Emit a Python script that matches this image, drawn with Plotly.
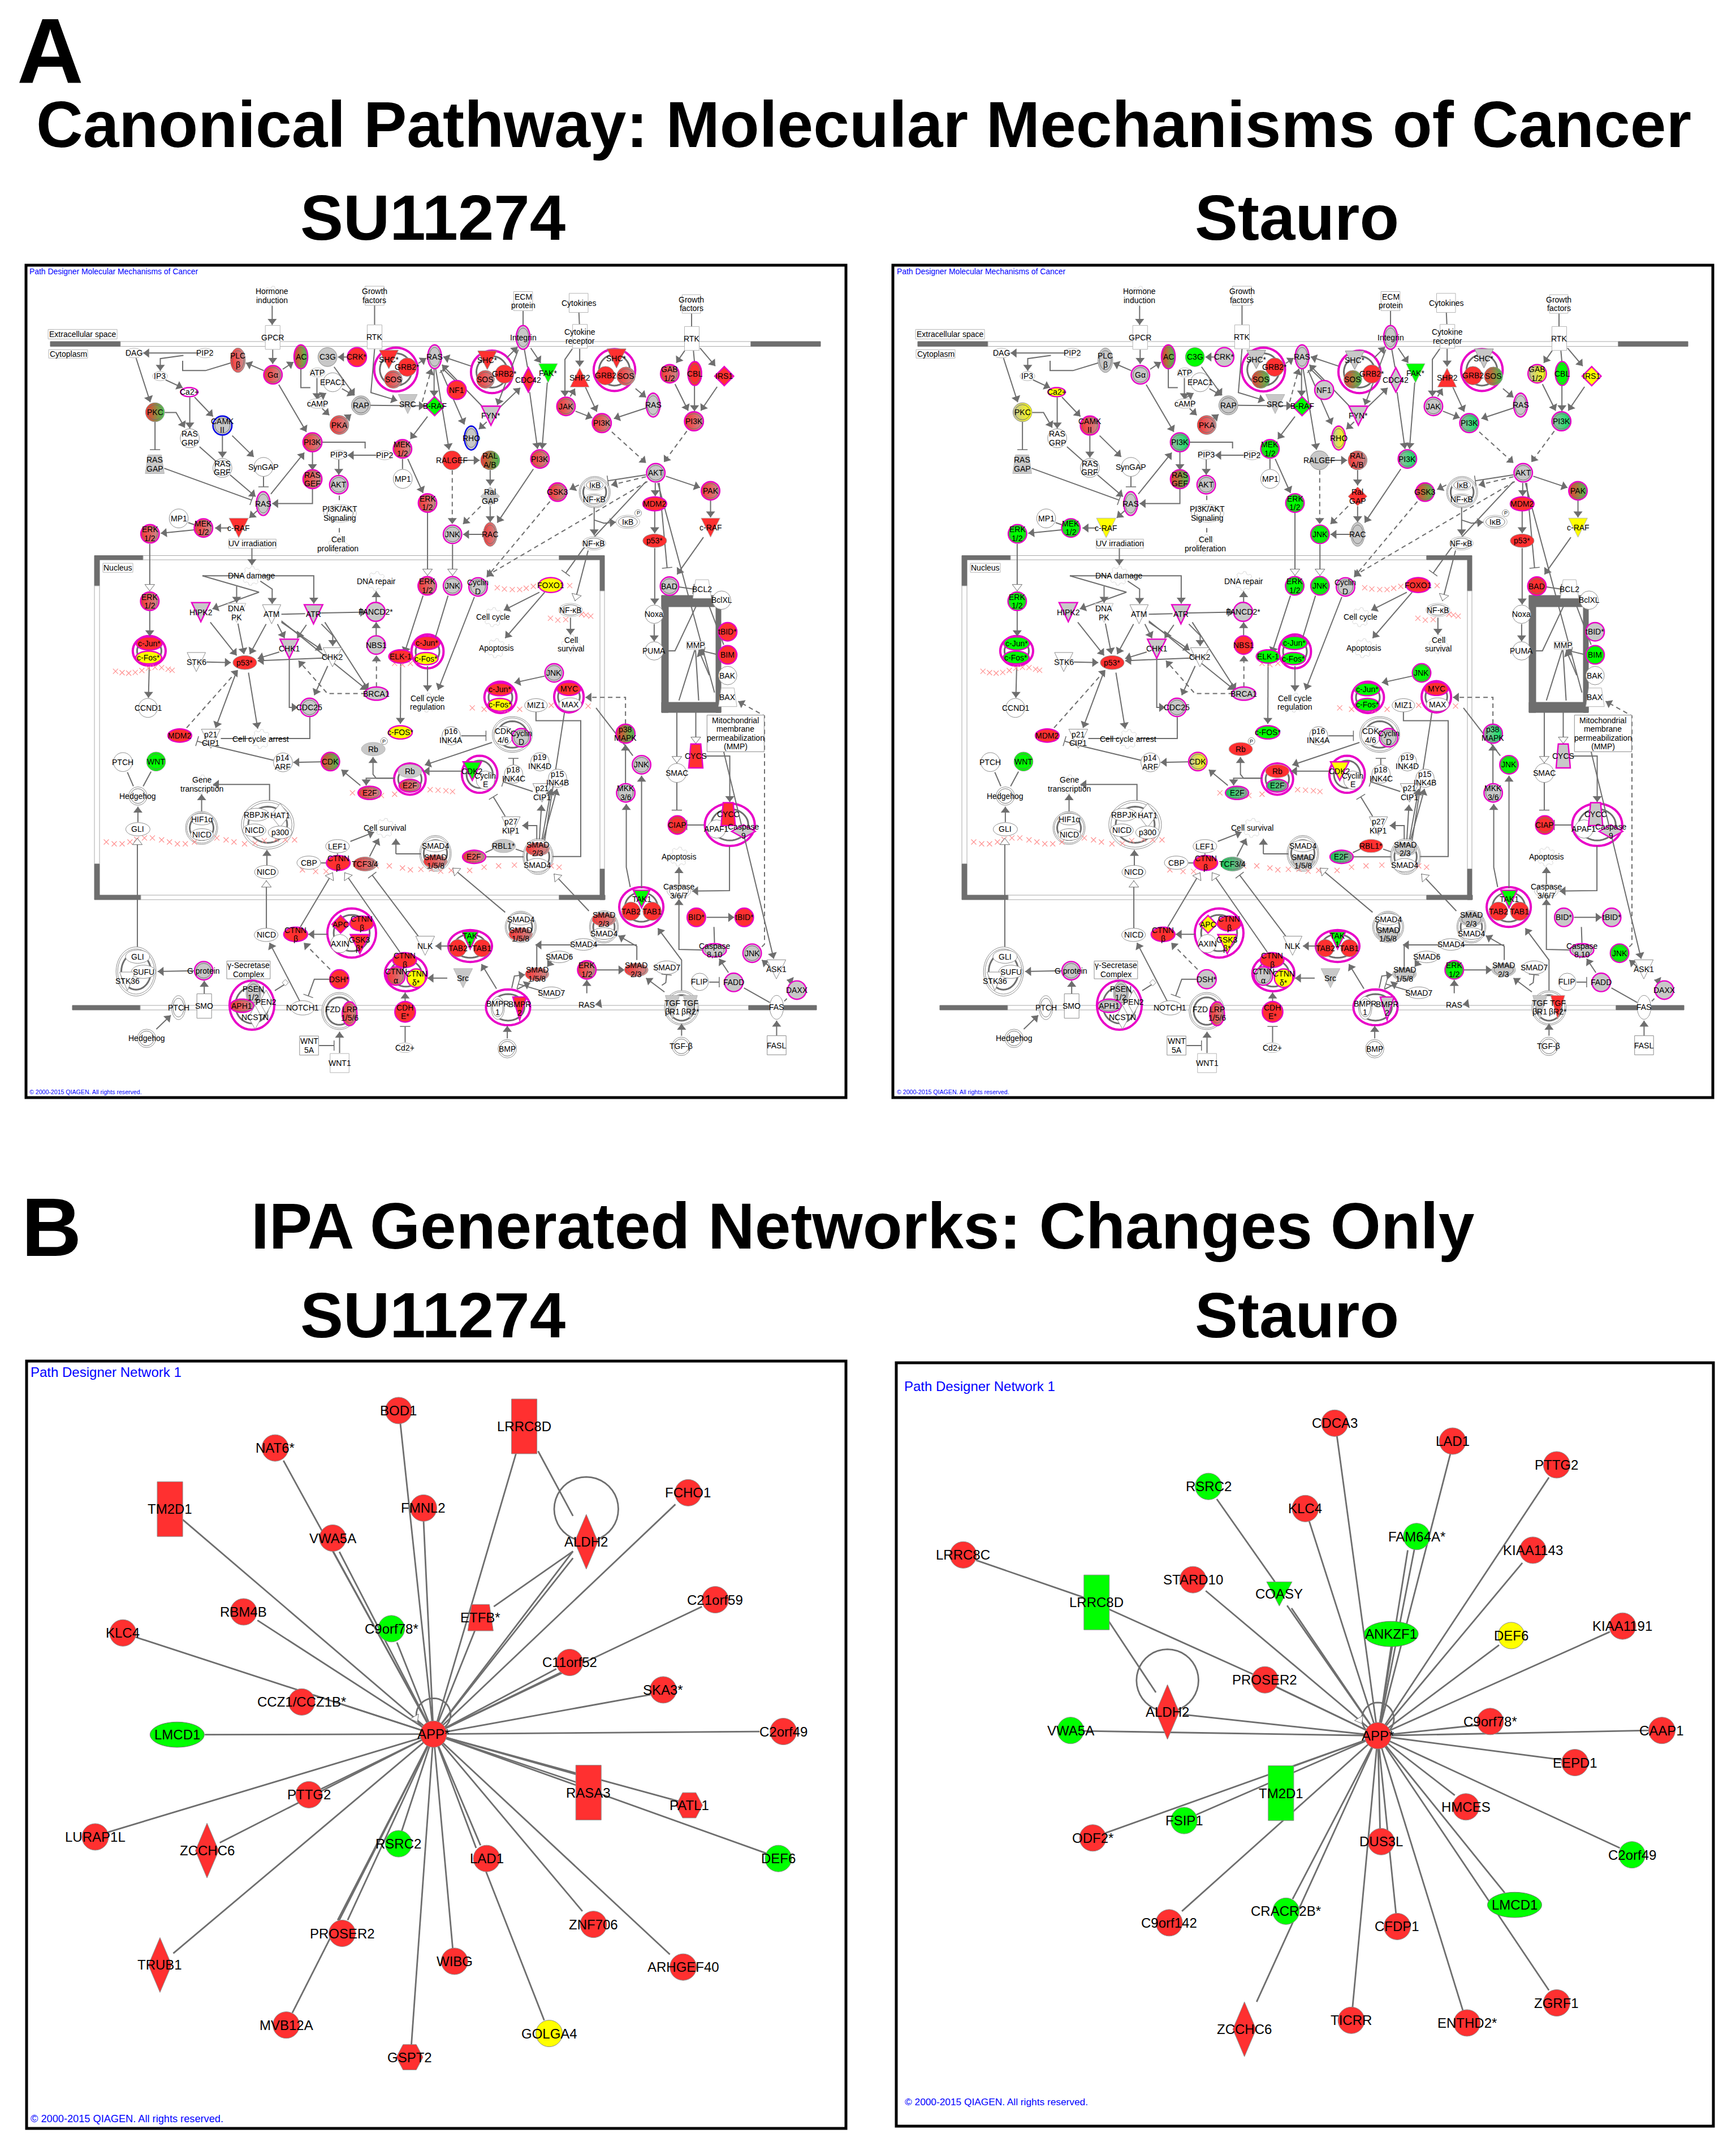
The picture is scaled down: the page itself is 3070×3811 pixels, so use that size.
#!/usr/bin/env python3
# -*- coding: utf-8 -*-
"""IPA pathway and network figure: two canonical pathway panels (A), two networks (B).
Node places are read off the picture, in the units of the crops it was read from."""
import math
import plotly.graph_objects as go

W, H = 3070, 3811
FONT = "Liberation Sans, Arial, sans-serif"
EDGE = "#6e6e6e"
MAG = "#e800c8"

COLORS = {"W": "#ffffff", "G": "#c8c8c8", "R": "#ff3030", "L": "#00ff00", "Y": "#ffff00"}
GRADS = {"RG": ("#ff3030", "#c89090"), "RL": ("#ff3030", "#40d050"), "LG": ("#a8b0a8", "#00f060"),
         "EG": ("#00e050", "#a0a0a0"), "YG": ("#c0c0a0", "#ffff00"), "RY": ("#ff3030", "#c8c8c8")}
BORDERS = {"M": MAG, "N": "#8c8c8c", "B": "#0000e6", "L": "#b4b4b4"}

# crops the pathway was read from: origin in the figure, x and y scale
ORIGIN = {"TL": (46, 469), "TR": (770, 469), "BL": (46, 1205), "BR": (770, 1205)}
SX, SY = 0.4656, 0.4694
STAURO_DX = 1534

# label, x, y, kind, w, h, fill SU11274, fill Stauro, border
NODES_TL = [
    ("Hormone|induction", 935, 115, "g", 72, 72, "W", "W", "L"),
    ("Growth|factors", 1324, 115, "s", 72, 72, "W", "W", "L"),
    ("GPCR", 937, 272, "s", 56, 90, "W", "W", "L"),
    ("RTK", 1324, 270, "s", 56, 90, "W", "W", "L"),
    ("Extracellular space", 215, 260, "s", 262, 36, "W", "W", "L"),
    ("Cytoplasm", 160, 334, "s", 148, 32, "W", "W", "L"),
    ("DAG", 410, 331, "e", 62, 36, "W", "W", "L"),
    ("PIP2", 680, 331, "e", 62, 36, "W", "W", "L"),
    ("PLC|β", 805, 358, "E", 56, 92, "RG", "G", "N"),
    ("Gα", 938, 413, "C", 70, 70, "RG", "G", "M"),
    ("AC", 1044, 345, "E", 52, 90, "RL", "RL", "M"),
    ("C3G", 1145, 346, "c", 72, 72, "G", "L", "N"),
    ("CRK*", 1257, 346, "c", 72, 72, "R", "G", "M"),
    ("SHC*", 1378, 355, "v", 72, 70, "R", "G", "N"),
    ("GRB2*", 1448, 384, "c", 70, 70, "R", "R", "N"),
    ("SOS", 1395, 430, "C", 68, 68, "RG", "RL", "N"),
    ("RAS", 1552, 345, "E", 52, 90, "G", "G", "M"),
    ("IP3", 509, 418, "e", 56, 34, "W", "W", "L"),
    ("Ca2+", 620, 478, "e", 66, 34, "W", "Y", "M"),
    ("ATP", 1107, 404, "e", 56, 34, "W", "W", "L"),
    ("EPAC1", 1165, 441, "c", 72, 72, "W", "W", "N"),
    ("cAMP", 1107, 521, "e", 76, 36, "W", "W", "L"),
    ("RAP", 1272, 528, "C", 72, 72, "G", "G", "N"),
    ("SRC", 1450, 523, "v", 72, 72, "G", "G", "L"),
    ("B-RAF", 1552, 531, "d", 72, 72, "L", "L", "M"),
    ("PKC", 490, 554, "C", 72, 72, "RL", "YG", "N"),
    ("CAMK|II", 746, 604, "C", 72, 72, "G", "RG", "B"),
    ("PKA", 1190, 602, "C", 72, 72, "RG", "RG", "N"),
    ("PI3K", 1088, 667, "C", 72, 72, "RG", "LG", "M"),
    ("MEK|1/2", 1430, 692, "C", 70, 70, "RG", "L", "M"),
    ("RAS|GRP", 622, 652, "c", 72, 72, "W", "W", "N"),
    ("PIP3", 1188, 714, "e", 60, 34, "W", "W", "L"),
    ("PIP2", 1362, 716, "e", 60, 34, "W", "W", "L"),
    ("RAS|GAP", 489, 750, "t", 72, 70, "G", "G", "L"),
    ("RAS|GRF", 746, 764, "C", 72, 72, "W", "W", "N"),
    ("SynGAP", 902, 760, "c", 72, 72, "W", "W", "N"),
    ("MP1", 1431, 805, "c", 72, 72, "W", "W", "N"),
    ("RAS|GEF", 1088, 806, "C", 72, 72, "RG", "RL", "M"),
    ("AKT", 1188, 827, "C", 70, 70, "G", "G", "M"),
    ("RAS", 901, 898, "E", 52, 90, "G", "G", "M"),
    ("ERK|1/2", 1525, 896, "C", 70, 70, "RG", "L", "M"),
    ("MP1", 580, 954, "c", 72, 72, "W", "W", "N"),
    ("MEK|1/2", 674, 990, "C", 70, 70, "RG", "L", "M"),
    ("c-RAF", 808, 990, "v", 74, 74, "R", "Y", "L"),
    ("ERK|1/2", 471, 1012, "C", 70, 70, "RG", "L", "M"),
    ("PI3K/AKT|Signaling", 1193, 935, "E", 124, 66, "W", "W", "L"),
    ("Cell|proliferation", 1185, 1050, "g", 72, 72, "W", "W", "L"),
    ("UV irradiation", 860, 1049, "s", 180, 34, "W", "W", "L"),
    ("Nucleus", 349, 1140, "s", 114, 34, "W", "W", "L"),
    ("DNA damage", 856, 1170, "g", 72, 72, "W", "W", "L"),
    ("DNA repair", 1330, 1190, "g", 72, 72, "W", "W", "L"),
    ("ERK|1/2", 1524, 1208, "C", 70, 70, "RG", "L", "M"),
    ("ERK|1/2", 470, 1266, "C", 70, 70, "RG", "L", "M"),
    ("HIPK2", 664, 1307, "v", 70, 72, "G", "G", "M"),
    ("DNA|PK", 800, 1310, "v", 70, 72, "W", "W", "L"),
    ("ATM", 933, 1315, "v", 70, 72, "W", "W", "N"),
    ("ATR", 1092, 1315, "v", 70, 72, "G", "G", "M"),
    ("FANCD2*", 1328, 1306, "c", 72, 72, "G", "G", "M"),
    ("CHK1", 1000, 1445, "v", 70, 72, "G", "G", "M"),
    ("NBS1", 1330, 1431, "c", 70, 70, "G", "R", "M"),
    ("STK6", 647, 1495, "v", 70, 72, "W", "W", "N"),
    ("p53*", 831, 1497, "e", 90, 52, "R", "R", "N"),
    ("CHK2", 1164, 1477, "v", 72, 72, "W", "W", "N"),
    ("c-Jun*", 468, 1425, "e", 98, 50, "R", "L", "M"),
    ("c-Fos*", 466, 1478, "e", 98, 48, "Y", "L", "M"),
    ("ELK-1", 1423, 1474, "e", 90, 50, "R", "L", "M"),
    ("c-Jun*", 1523, 1423, "e", 98, 50, "R", "L", "M"),
    ("c-Fos*", 1520, 1482, "e", 90, 46, "Y", "L", "M"),
]
NODES_TR = [
    ("ECM|protein", 333, 135, "s", 72, 72, "W", "W", "L"),
    ("Cytokines", 544, 142, "s", 72, 72, "W", "W", "L"),
    ("Growth|factors", 972, 146, "s", 70, 70, "W", "W", "L"),
    ("Integrin", 333, 272, "E", 52, 90, "G", "G", "M"),
    ("Cytokine|receptor", 549, 268, "s", 56, 90, "W", "W", "L"),
    ("RTK", 974, 276, "s", 56, 90, "W", "W", "L"),
    ("SHC*", 197, 358, "v", 72, 70, "R", "G", "N"),
    ("GRB2*", 262, 410, "c", 70, 70, "R", "R", "N"),
    ("SOS", 190, 430, "C", 68, 68, "RG", "RL", "N"),
    ("CDC42", 353, 432, "d", 48, 92, "R", "G", "M"),
    ("FAK*", 428, 407, "v", 72, 72, "L", "L", "L"),
    ("SHP2", 548, 423, "^", 72, 72, "R", "R", "L"),
    ("SHC*", 688, 351, "v", 72, 72, "R", "G", "N"),
    ("GRB2", 646, 416, "c", 70, 70, "R", "R", "N"),
    ("SOS", 724, 418, "C", 70, 70, "RG", "RL", "N"),
    ("GAB|1/2", 890, 409, "C", 70, 70, "RG", "YG", "M"),
    ("CBL", 985, 408, "E", 52, 90, "R", "L", "M"),
    ("IRS1", 1097, 418, "d", 72, 72, "R", "Y", "M"),
    ("NF1", 81, 470, "c", 72, 72, "R", "G", "M"),
    ("FYN*", 211, 567, "v", 72, 72, "G", "G", "M"),
    ("JAK", 496, 532, "C", 70, 70, "RG", "G", "M"),
    ("RAS", 827, 527, "E", 52, 90, "G", "G", "M"),
    ("PI3K", 632, 595, "C", 72, 72, "RG", "LG", "M"),
    ("PI3K", 982, 588, "C", 72, 72, "RG", "LG", "M"),
    ("RHO", 136, 651, "E", 52, 90, "G", "YG", "B"),
    ("RALGEF", 63, 735, "c", 72, 72, "R", "G", "N"),
    ("RAL|A/B", 208, 735, "C", 72, 72, "RL", "RG", "N"),
    ("PI3K", 397, 730, "C", 70, 70, "RG", "LG", "M"),
    ("AKT", 837, 782, "C", 70, 70, "G", "G", "M"),
    ("PAK", 1045, 850, "C", 70, 70, "RG", "RL", "M"),
    ("GSK3", 464, 855, "C", 70, 70, "RG", "RL", "M"),
    ("IκB", 605, 828, "E", 80, 42, "W", "W", "L"),
    ("NF-κB", 603, 882, "E", 80, 42, "W", "W", "L"),
    ("Ral|GAP", 208, 871, "d", 72, 72, "G", "R", "L"),
    ("MDM2", 833, 899, "e", 90, 52, "R", "R", "M"),
    ("c-RAF", 1045, 989, "v", 72, 72, "R", "Y", "L"),
    ("IκB", 731, 967, "E", 90, 50, "W", "W", "L"),
    ("RAC", 208, 1014, "E", 52, 90, "RG", "G", "N"),
    ("JNK", 65, 1014, "C", 70, 70, "G", "L", "M"),
    ("p53*", 833, 1038, "e", 90, 50, "R", "R", "N"),
    ("NF-κB", 602, 1048, "E", 90, 50, "W", "W", "L"),
    ("BAD", 889, 1209, "C", 70, 70, "G", "R", "M"),
    ("BCL2", 1013, 1220, "t", 70, 70, "W", "W", "L"),
    ("FOXO1", 438, 1205, "e", 92, 56, "Y", "R", "M"),
    ("JNK", 65, 1208, "C", 70, 70, "G", "L", "M"),
    ("Cyclin|D", 162, 1212, "C", 70, 70, "G", "G", "M"),
    ("NF-κB", 513, 1299, "E", 90, 50, "W", "W", "L"),
    ("Cell cycle", 219, 1326, "g", 72, 72, "W", "W", "L"),
    ("Noxa", 831, 1315, "c", 70, 70, "W", "W", "N"),
    ("BclXL", 1087, 1262, "c", 70, 70, "W", "W", "N"),
    ("tBID*", 1110, 1381, "c", 70, 70, "R", "G", "M"),
    ("Cell|survival", 515, 1428, "g", 72, 72, "W", "W", "L"),
    ("Apoptosis", 230, 1443, "g", 72, 72, "W", "W", "L"),
    ("PUMA", 831, 1453, "c", 70, 70, "W", "W", "N"),
    ("MMP", 988, 1432, "s", 68, 28, "W", "W", "L"),
    ("BIM", 1110, 1468, "c", 70, 70, "R", "L", "M"),
    ("JNK", 451, 1536, "C", 70, 70, "G", "L", "M"),
    ("BAK", 1110, 1546, "c", 70, 70, "W", "W", "N"),
]
NODES_BL = [
    ("BRCA1", 1331, 46, "e", 90, 50, "G", "G", "M"),
    ("CCND1", 463, 100, "c", 72, 72, "W", "W", "N"),
    ("CDC25", 1077, 98, "C", 70, 70, "G", "G", "M"),
    ("Cell cycle|regulation", 1525, 80, "g", 72, 72, "W", "W", "L"),
    ("MDM2", 584, 204, "e", 90, 50, "R", "R", "M"),
    ("p21|CIP1", 702, 216, "v", 72, 72, "W", "W", "N"),
    ("Cell cycle arrest", 892, 217, "g", 72, 72, "W", "W", "L"),
    ("c-FOS*", 1422, 192, "e", 90, 50, "Y", "L", "M"),
    ("Rb", 1319, 255, "e", 90, 50, "G", "R", "L"),
    ("PTCH", 368, 304, "c", 72, 72, "W", "W", "N"),
    ("WNT", 494, 302, "C", 72, 72, "L", "L", "N"),
    ("p14|ARF", 976, 305, "c", 72, 72, "W", "W", "N"),
    ("CDK", 1156, 302, "C", 70, 70, "RL", "YG", "M"),
    ("Hedgehog", 425, 432, "C", 70, 70, "W", "W", "N"),
    ("Gene|transcription", 667, 388, "g", 72, 72, "W", "W", "L"),
    ("E2F", 1305, 420, "E", 88, 50, "RG", "EG", "M"),
    ("Rb", 1458, 338, "e", 90, 50, "G", "R", "L"),
    ("E2F", 1458, 393, "E", 82, 48, "RG", "EG", "M"),
    ("GLI", 425, 557, "e", 92, 50, "W", "W", "N"),
    ("HIF1α", 668, 519, "e", 86, 44, "W", "W", "N"),
    ("NICD", 668, 577, "e", 86, 44, "W", "W", "N"),
    ("RBPJK", 876, 502, "e", 94, 48, "W", "W", "N"),
    ("HAT1", 965, 505, "d", 70, 90, "W", "W", "N"),
    ("NICD", 867, 561, "e", 88, 48, "W", "W", "N"),
    ("p300", 965, 569, "e", 90, 48, "W", "W", "N"),
    ("Cell survival", 1363, 552, "g", 72, 72, "W", "W", "L"),
    ("LEF1", 1183, 621, "e", 90, 50, "W", "W", "N"),
    ("CBP", 1074, 683, "e", 90, 50, "W", "W", "N"),
    ("CTNN|β", 1186, 684, "e", 90, 56, "R", "R", "M"),
    ("TCF3/4", 1288, 688, "E", 90, 52, "RG", "EG", "N"),
    ("NICD", 913, 718, "e", 90, 50, "W", "W", "N"),
    ("NICD", 912, 955, "e", 90, 50, "W", "W", "N"),
    ("CTNN|β", 1024, 953, "e", 90, 54, "R", "R", "M"),
    ("APC", 1195, 915, "d", 66, 66, "R", "Y", "M"),
    ("CTNN|β", 1275, 912, "e", 90, 56, "R", "R", "M"),
    ("AXIN", 1192, 988, "c", 70, 70, "W", "W", "N"),
    ("GSK3|β*", 1268, 990, "v", 72, 72, "R", "Y", "M"),
    ("NLK", 1516, 996, "v", 72, 72, "W", "W", "N"),
    ("CTNN|β", 1438, 1050, "e", 90, 56, "R", "R", "M"),
    ("CTNN|α", 1405, 1110, "C", 70, 70, "RG", "G", "M"),
    ("CTNN|δ*", 1482, 1118, "c", 70, 70, "Y", "Y", "M"),
    ("GLI", 424, 1037, "e", 92, 50, "W", "W", "N"),
    ("SUFU", 446, 1094, "e", 92, 50, "W", "W", "N"),
    ("STK36", 385, 1130, "v", 60, 70, "W", "W", "N"),
    ("G protein", 675, 1090, "C", 70, 70, "G", "G", "M"),
    ("γ-Secretase|Complex", 845, 1087, "s", 165, 67, "W", "W", "N"),
    ("DSH*", 1190, 1122, "c", 72, 72, "R", "G", "M"),
    ("PSEN|1/2", 864, 1175, "E", 56, 90, "G", "G", "N"),
    ("PEN2", 912, 1208, "d", 50, 90, "W", "W", "N"),
    ("APH1", 820, 1222, "E", 90, 50, "RG", "G", "M"),
    ("NCSTN", 870, 1265, "d", 50, 90, "W", "W", "N"),
    ("", 985, 1135, "d", 24, 24, "W", "W", "N"),
    ("PTCH", 579, 1229, "E", 52, 90, "W", "W", "N"),
    ("SMO", 677, 1223, "s", 56, 92, "W", "W", "N"),
    ("NOTCH1", 1051, 1230, "e", 90, 54, "W", "W", "N"),
    ("FZD", 1165, 1235, "x", 40, 30, "W", "W", "L"),
    ("LRP|1/5/6", 1229, 1252, "E", 56, 90, "RG", "RG", "M"),
    ("CDH|E*", 1440, 1245, "c", 78, 78, "R", "R", "M"),
    ("Hedgehog", 458, 1345, "C", 70, 70, "W", "W", "N"),
    ("WNT|5A", 1075, 1372, "s", 72, 72, "W", "W", "N"),
    ("WNT1", 1191, 1438, "s", 72, 72, "W", "W", "L"),
    ("Cd2+", 1438, 1380, "e", 66, 36, "W", "W", "L"),
]
NODES_BR = [
    ("c-Jun*", 245, 30, "e", 96, 48, "R", "L", "M"),
    ("c-Fos*", 245, 88, "e", 90, 48, "Y", "L", "M"),
    ("MYC", 507, 28, "e", 90, 50, "R", "R", "M"),
    ("MAX", 512, 87, "e", 86, 50, "W", "W", "N"),
    ("MIZ1", 382, 90, "e", 86, 50, "W", "W", "N"),
    ("BAX", 1110, 60, "t", 70, 70, "W", "W", "L"),
    ("p38|MAPK", 722, 197, "C", 72, 72, "RL", "LG", "M"),
    ("CYCS", 989, 281, "t", 54, 90, "R", "G", "M"),
    ("p16|INK4A", 60, 205, "c", 70, 70, "W", "W", "N"),
    ("CDK|4/6", 258, 205, "c", 72, 72, "W", "W", "N"),
    ("Cyclin|D", 326, 212, "C", 70, 70, "G", "G", "M"),
    ("p19|INK4D", 397, 303, "c", 70, 70, "W", "W", "N"),
    ("JNK", 783, 314, "C", 70, 70, "G", "L", "M"),
    ("SMAC", 917, 345, "c", 72, 72, "W", "W", "N"),
    ("p18|INK4C", 297, 349, "c", 70, 70, "W", "W", "N"),
    ("CDK2", 140, 338, "v", 70, 70, "L", "Y", "M"),
    ("Cyclin|E", 190, 372, "c", 70, 70, "W", "W", "N"),
    ("p15|INK4B", 464, 365, "c", 70, 70, "W", "W", "N"),
    ("p21|CIP1", 405, 420, "v", 70, 70, "W", "W", "N"),
    ("MKK|3/6", 723, 420, "C", 70, 70, "G", "G", "M"),
    ("p27|KIP1", 287, 545, "v", 70, 70, "W", "W", "N"),
    ("CIAP", 919, 541, "C", 70, 70, "R", "R", "M"),
    ("APAF1", 1068, 556, "c", 70, 70, "W", "W", "N"),
    ("CYCC", 1112, 500, "t", 54, 86, "R", "G", "M"),
    ("Caspase|9", 1170, 565, "d", 90, 50, "G", "G", "M"),
    ("RBL1*", 259, 620, "e", 90, 50, "G", "R", "L"),
    ("E2F", 147, 661, "E", 88, 50, "RG", "EG", "M"),
    ("SMAD|2/3", 388, 632, "E", 90, 50, "RG", "G", "L"),
    ("SMAD4", 386, 692, "e", 90, 50, "W", "W", "N"),
    ("SMAD4", 0, 620, "e", 90, 44, "W", "W", "N"),
    ("SMAD|1/5/8", 0, 678, "E", 90, 50, "RG", "G", "L"),
    ("Apoptosis", 925, 660, "g", 72, 72, "W", "W", "L"),
    ("Caspase|3/6/7", 925, 790, "E", 90, 50, "W", "W", "L"),
    ("TAB2", 743, 866, "c", 70, 70, "R", "R", "N"),
    ("TAB1", 823, 866, "c", 70, 70, "R", "R", "N"),
    ("TAK1", 783, 820, "v", 62, 66, "L", "L", "M"),
    ("BID*", 991, 889, "c", 70, 70, "R", "G", "M"),
    ("tBID*", 1173, 889, "c", 70, 70, "R", "G", "M"),
    ("SMAD|2/3", 640, 897, "E", 90, 50, "RG", "G", "L"),
    ("SMAD4", 640, 950, "e", 90, 44, "W", "W", "N"),
    ("SMAD4", 324, 896, "e", 90, 44, "W", "W", "N"),
    ("SMAD|1/5/8", 324, 953, "E", 90, 50, "RG", "G", "L"),
    ("SMAD4", 562, 991, "e", 90, 44, "W", "W", "N"),
    ("TAB2", 85, 1005, "c", 66, 66, "R", "R", "N"),
    ("TAB1", 177, 1005, "c", 66, 66, "R", "R", "N"),
    ("TAK|1", 132, 975, "v", 62, 66, "L", "L", "M"),
    ("Caspase|8,10", 1060, 1013, "E", 90, 50, "G", "G", "M"),
    ("JNK", 1203, 1024, "C", 70, 70, "G", "L", "M"),
    ("SMAD6", 470, 1038, "e", 90, 44, "W", "W", "N"),
    ("SMAD7", 879, 1078, "e", 90, 50, "W", "W", "N"),
    ("ASK1", 1295, 1085, "v", 72, 72, "W", "W", "N"),
    ("ERK|1/2", 575, 1087, "C", 70, 70, "RG", "L", "M"),
    ("SMAD|2/3", 763, 1087, "E", 90, 50, "RG", "G", "L"),
    ("SMAD|1/5/8", 386, 1103, "E", 90, 50, "RG", "G", "L"),
    ("Src", 105, 1118, "v", 72, 72, "G", "G", "L"),
    ("FLIP", 1004, 1132, "c", 66, 66, "W", "W", "N"),
    ("FADD", 1133, 1134, "c", 70, 70, "G", "G", "M"),
    ("DAXX", 1373, 1163, "c", 70, 70, "G", "G", "M"),
    ("SMAD7", 440, 1173, "e", 90, 44, "W", "W", "N"),
    ("BMPR|1", 237, 1230, "E", 50, 86, "W", "W", "N"),
    ("BMPR|2", 320, 1232, "v", 52, 86, "R", "G", "M"),
    ("RAS", 575, 1219, "x", 40, 30, "W", "W", "L"),
    ("TGF|βR1", 900, 1228, "v", 54, 90, "G", "G", "L"),
    ("TGF|βR2*", 968, 1228, "v", 54, 90, "G", "R", "L"),
    ("FAS", 1296, 1228, "e", 52, 90, "W", "W", "N"),
    ("BMP", 273, 1384, "C", 70, 70, "W", "W", "N"),
    ("TGF-β", 934, 1375, "C", 70, 70, "W", "W", "N"),
    ("FASL", 1296, 1371, "s", 72, 72, "W", "W", "N"),
    ("Mitochondrial|membrane|permeabilization|(MMP)", 1140, 196, "s", 217, 138, "W", "W", "N"),
]
NODE_TILES = {"TL": NODES_TL, "TR": NODES_TR, "BL": NODES_BL, "BR": NODES_BR}

# small "P" tags beside a node
TAGS = [("TR", 770, 934), ("BL", 1360, 225)]

# complexes: x, y, w, h, ring (M magenta, D double grey)
GROUPS = {
    "TL": [(1405, 393, 165, 165, "M"), (468, 1453, 125, 112, "M"), (1525, 1455, 122, 128, "M")],
    "TR": [(215, 402, 160, 160, "M"), (680, 395, 158, 158, "M"), (605, 855, 118, 118, "D")],
    "BL": [(1458, 368, 120, 118, "M"), (667, 552, 122, 124, "D"), (918, 540, 200, 184, "D"),
           (1237, 948, 185, 185, "M"), (1443, 1100, 160, 135, "M"), (418, 1093, 152, 185, "D"),
           (858, 1220, 170, 185, "M"), (1190, 1242, 134, 140, "D")],
    "BR": [(247, 60, 122, 118, "M"), (507, 58, 112, 118, "M"), (292, 200, 152, 135, "D"),
           (168, 350, 135, 140, "M"), (1118, 540, 190, 160, "M"), (390, 660, 115, 135, "D"),
           (0, 648, 120, 135, "D"), (782, 850, 168, 150, "M"), (640, 925, 110, 122, "D"),
           (324, 925, 118, 118, "D"), (132, 997, 166, 120, "M"), (276, 1228, 168, 135, "M"),
           (935, 1230, 130, 130, "D")],
}

# edges: style (> arrow, o open arrow, T bar, - plain, d dashed arrow, n dashed plain), then points
EDGES_TL = [
    (">", (935, 153), (935, 225)), ("-", (1324, 150), (1324, 225)), (">", (937, 318), (937, 372)),
    (">", (418, 350), (472, 516)), (">", (650, 331), (445, 331)), (">", (598, 340), (510, 352), (510, 398)),
    ("-", (595, 360), (595, 397), (682, 397), (778, 368)), (">", (530, 432), (595, 462)),
    (">", (622, 497), (622, 615)), (">", (640, 497), (710, 570)), ("T", (490, 590), (490, 695)),
    (">", (527, 555), (570, 555), (603, 612)), (">", (746, 642), (746, 725)), (">", (783, 642), (865, 722)),
    ("T", (902, 797), (902, 835)), ("-", (659, 684), (725, 742)), (">", (775, 790), (872, 872)),
    ("T", (525, 765), (857, 885)), (">", (903, 397), (835, 368)), (">", (975, 392), (1016, 365)),
    (">", (960, 450), (1065, 628)), ("-", (1044, 390), (1044, 461), (1080, 461)), (">", (1105, 425), (1105, 505)),
    (">", (1100, 505), (1140, 482)), (">", (1125, 540), (1152, 565)), (">", (1170, 383), (1248, 490)),
    (">", (1200, 465), (1245, 490)), (">", (1222, 346), (1185, 346)), (">", (1207, 585), (1235, 562)),
    (">", (1308, 528), (1515, 530)), (">", (1324, 315), (1310, 480), (1410, 510)), ("d", (1505, 515), (1540, 390)),
    ("d", (1490, 370), (1520, 350)), ("-", (1125, 667), (1288, 667), (1288, 690)), (">", (1330, 716), (1222, 716)),
    (">", (1188, 732), (1188, 790)), (">", (1088, 705), (1088, 772)), (">", (1088, 842), (1088, 898), (935, 898)),
    (">", (930, 862), (1057, 706)), ("n", (1190, 868), (1190, 895)), ("n", (1190, 990), (1190, 1015)),
    (">", (878, 925), (848, 952)), (">", (770, 990), (718, 990)), (">", (640, 997), (512, 1010)),
    ("-", (616, 970), (640, 978)), ("o", (470, 1050), (470, 1228)), (">", (470, 1302), (470, 1398)),
    (">", (858, 1066), (858, 1130)), (">", (1450, 730), (1508, 858)), ("-", (1430, 730), (1430, 768)),
    (">", (1525, 570), (1460, 655)), ("o", (1525, 932), (1525, 1170)),
    (">", (670, 1170), (885, 1232), (708, 1295)), (">", (670, 1170), (1093, 1170), (1093, 1275)),
    (">", (800, 1210), (800, 1272)), (">", (890, 1190), (935, 1220), (935, 1276)),
    ("-", (970, 1315), (1060, 1313)), (">", (1120, 1310), (1292, 1307)), (">", (1330, 1395), (1330, 1345)),
    (">", (1330, 1270), (1330, 1228)), ("d", (1331, 1588), (1331, 1470)), (">", (700, 1345), (800, 1470)),
    (">", (805, 1350), (828, 1465)), (">", (912, 1352), (850, 1465)), (">", (955, 1352), (982, 1405)),
    (">", (1065, 1355), (1030, 1405)), (">", (1122, 1352), (1165, 1395), (1165, 1435)),
    (">", (970, 1345), (1125, 1450)), (">", (970, 1340), (1295, 1600)), (">", (1135, 1345), (1300, 1600)),
    (">", (962, 1457), (880, 1482)), (">", (1128, 1480), (880, 1490)), (">", (685, 1495), (778, 1497)),
    (">", (1000, 1480), (1000, 1666), (1032, 1666)), (">", (1146, 1510), (1095, 1620)),
    ("d", (1290, 1614), (1145, 1614), (1035, 1490)), (">", (1508, 1245), (1437, 1462)),
    (">", (468, 1515), (465, 1630)), (">", (1423, 1500), (1422, 1728)), (">", (1525, 1510), (1525, 1605)),
    (">", (800, 1530), (720, 1743)), (">", (845, 1535), (880, 1746)), ("d", (610, 1743), (805, 1525)),
]
EDGES_TR = [
    ("-", (333, 172), (333, 228)), ("-", (545, 178), (547, 222)), ("-", (973, 182), (973, 232)),
    ("-", (338, 318), (350, 385)), (">", (315, 318), (235, 527)), (">", (240, 540), (322, 462)),
    (">", (195, 590), (165, 618)), (">", (362, 312), (400, 368)), (">", (270, 350), (312, 308)),
    (">", (358, 478), (388, 692)), (">", (425, 442), (405, 692)), (">", (135, 380), (30, 345)),
    (">", (178, 532), (25, 375)), ("T", (75, 435), (30, 392)), (">", (20, 395), (110, 600)),
    (">", (0, 385), (52, 695)), (">", (-5, 390), (-5, 495)), (">", (548, 315), (548, 382)),
    (">", (520, 315), (492, 355), (492, 495)), (">", (512, 495), (530, 465)), (">", (570, 460), (613, 552)),
    (">", (532, 550), (596, 575)), (">", (800, 538), (678, 578)), (">", (760, 465), (800, 498)),
    (">", (947, 322), (915, 368)), ("-", (980, 322), (984, 365)), (">", (1005, 312), (1063, 380)),
    (">", (910, 448), (960, 548)), (">", (984, 453), (984, 550)), (">", (1070, 458), (1008, 548)),
    ("d", (670, 628), (800, 745)), ("d", (955, 625), (868, 742)), (">", (100, 735), (168, 735)),
    (">", (208, 772), (208, 830)), (">", (208, 908), (208, 968)), ("d", (172, 908), (105, 975)),
    ("d", (64, 772), (64, 975)), (">", (178, 1014), (105, 1014)), (">", (372, 768), (235, 970)),
    ("o", (65, 1052), (65, 1170)), ("d", (800, 797), (668, 828)), ("T", (800, 790), (655, 812)),
    (">", (545, 828), (510, 845)), (">", (875, 795), (1005, 838)), (">", (1045, 885), (1045, 950)),
    (">", (835, 820), (835, 870)), (">", (833, 925), (833, 1010)), (">", (1018, 1025), (918, 1165)),
    (">", (833, 1066), (833, 1278)), (">", (831, 1352), (831, 1417)), ("T", (850, 820), (880, 1140)),
    ("-", (845, 820), (1060, 1610)), ("T", (800, 815), (560, 1070), (495, 1160)),
    ("d", (805, 815), (195, 1170)), ("d", (435, 890), (195, 1175)), (">", (603, 912), (603, 1018)),
    (">", (603, 960), (640, 972), (685, 968)), ("o", (580, 1075), (530, 1265)), (">", (395, 1232), (260, 1300)),
    (">", (415, 1232), (265, 1405)), (">", (513, 1328), (513, 1392)), ("T", (925, 1212), (980, 1220)),
    ("-", (990, 1285), (910, 1453), (870, 1453)), ("-", (1040, 1285), (1095, 1430)), (">", (1040, 1545), (1000, 1450)),
    (">", (1075, 1468), (1000, 1450)), ("-", (985, 1450), (925, 1640)), ("-", (988, 1450), (1000, 1640)),
    (">", (415, 1548), (300, 1573)), (">", (48, 1245), (-8, 1428)), (">", (148, 1250), (10, 1600)),
]
EDGES_BL = [
    ("-", (1078, 135), (1078, 215), (740, 215)), ("T", (940, 297), (700, 240), (650, 225)),
    (">", (1120, 303), (1015, 305)), (">", (1270, 392), (1198, 333)), (">", (1400, 365), (1292, 365), (1292, 392)),
    (">", (1400, 365), (1330, 365), (1318, 350), (1318, 285)), ("-", (385, 342), (408, 395)),
    ("-", (475, 340), (445, 395)), (">", (425, 530), (425, 472)), ("o", (423, 1000), (423, 590)),
    (">", (667, 490), (667, 425)), (">", (925, 448), (925, 388), (710, 388)), (">", (915, 695), (915, 635)),
    ("o", (913, 930), (913, 750)), (">", (1040, 1205), (925, 985)), (">", (677, 1177), (677, 1128)),
    (">", (640, 1090), (500, 1093)), (">", (495, 1310), (550, 1258)), (">", (1191, 1400), (1191, 1320)),
    ("T", (1113, 1372), (1170, 1372)), ("T", (1155, 1122), (1095, 1122), (1072, 1185)),
    ("d", (1155, 1085), (1055, 985)), (">", (1145, 953), (1072, 953)), ("o", (1042, 925), (1165, 720)),
    ("o", (1420, 1020), (1210, 720)), ("T", (1490, 960), (1315, 730)), ("-", (1120, 684), (1140, 684)),
    ("-", (1183, 648), (1183, 660)), (">", (1232, 603), (1322, 568)), (">", (1305, 660), (1340, 592)),
    (">", (1440, 1205), (1440, 1172)), ("T", (1440, 1360), (1440, 1300)), (">", (1600, 1118), (1525, 1118)),
    (">", (1603, 997), (1555, 997)), ("-", (945, 1165), (985, 1140)), (">", (1405, 650), (1405, 593)),
    ("-", (1405, 650), (1500, 650)),
]
EDGES_BR = [
    ("d", (722, 160), (722, 60), (570, 60)), ("-", (750, 280), (610, 100)), (">", (722, 385), (722, 238)),
    (">", (740, 775), (725, 700), (725, 462)), (">", (783, 780), (783, 355)), ("T", (917, 380), (917, 485)),
    ("T", (1020, 541), (955, 541)), (">", (1020, 281), (1118, 281), (1118, 455)),
    (">", (1117, 620), (1117, 788), (975, 790)), (">", (925, 765), (925, 700)),
    (">", (1020, 1012), (925, 1010), (925, 820)), (">", (1113, 1097), (1078, 1045)), ("T", (1040, 1133), (1078, 1133)),
    ("-", (1172, 1155), (1270, 1210)), ("-", (1325, 1205), (1335, 1195)), (">", (1355, 1130), (1335, 1125)),
    ("d", (1240, 1000), (1250, 990), (1250, 130), (1150, 75)), (">", (1270, 1075), (1240, 1050)),
    (">", (1095, 265), (1285, 1045)), (">", (1030, 889), (1135, 889)), ("-", (1058, 925), (1060, 985)),
    (">", (1296, 1335), (1296, 1278)), (">", (935, 1165), (935, 1050), (845, 930)), (">", (935, 1335), (935, 1290)),
    (">", (870, 1170), (800, 1118)), ("T", (860, 1145), (875, 1135), (878, 1105)), (">", (612, 1087), (718, 1087)),
    (">", (575, 1175), (575, 1125)), (">", (628, 1214), (608, 1217)), (">", (765, 1050), (765, 998), (695, 958)),
    (">", (765, 993), (380, 993)), ("-", (385, 1075), (385, 990)), (">", (440, 1055), (425, 1075)),
    ("T", (400, 1165), (315, 1140)), (">", (290, 1155), (300, 1110), (340, 1105)), (">", (310, 1160), (360, 1135)),
    (">", (232, 1158), (175, 1065)), (">", (273, 1345), (273, 1298)), ("o", (265, 870), (65, 703)),
    ("o", (583, 865), (450, 725)), ("-", (190, 661), (335, 661)), ("-", (190, 645), (218, 632)),
    ("-", (305, 632), (335, 642)), (">", (385, 595), (385, 543), (330, 543)), (">", (395, 595), (403, 465)),
    (">", (405, 595), (440, 405)), (">", (410, 595), (462, 405)), ("T", (265, 508), (220, 435)),
    ("T", (296, 320), (296, 290)), ("T", (370, 415), (258, 378)),
    ("-", (382, 112), (382, 148), (552, 148), (552, 660), (445, 660)), ("-", (490, 118), (415, 600)),
    ("T", (98, 205), (192, 205)), (">", (215, 230), (-40, 315)), (">", (100, 338), (-45, 338)),
    ("o", (917, 115), (917, 308)), ("o", (989, 115), (989, 235)),
]
EDGE_TILES = {"TL": EDGES_TL, "TR": EDGES_TR, "BL": EDGES_BL, "BR": EDGES_BR}

# pink x marks along the DNA
WAVES = {
    "TL": [(340, 1530), (365, 1535), (390, 1537), (415, 1534), (440, 1527), (465, 1518), (490, 1515),
           (515, 1516), (540, 1522), (555, 1526), (1400, 1500), (1430, 1505), (1460, 1500), (1490, 1492)],
    "TR": [(235, 1215), (262, 1220), (292, 1222), (320, 1222), (345, 1217), (372, 1210), (510, 1207),
           (437, 1330), (465, 1337), (495, 1335), (555, 1315), (572, 1318), (590, 1322)],
    "BL": [(305, 605), (335, 612), (365, 612), (395, 605), (420, 595), (450, 590), (480, 590), (515, 597),
           (545, 605), (575, 612), (605, 612), (640, 605), (725, 590), (760, 597), (790, 605), (830, 612),
           (870, 610), (905, 600), (950, 595), (985, 597), (1020, 597), (1050, 710), (1100, 716), (1140, 716),
           (1240, 420), (1290, 430), (1350, 430), (1400, 425), (1535, 408), (1330, 695), (1380, 695),
           (1430, 703), (1460, 710), (1500, 708), (1540, 708)],
    "BR": [(20, 715), (60, 712), (130, 712), (185, 700), (240, 695), (300, 692), (360, 695), (440, 695),
           (470, 700), (10, 410), (40, 412), (65, 415), (140, 100), (185, 105), (270, 108), (320, 105),
           (440, 90), (580, 93)],
}

# bands of the membranes in figure pixels for the left panel: x0, y0, x1, y1, dark
BANDS = [
    (89, 604, 213, 612.6, True), (213, 604, 1328, 612.6, False), (1328, 604, 1451, 612.6, True),
    (128, 1778, 248, 1786, True), (248, 1778, 1324, 1786, False), (1324, 1778, 1444, 1786, True),
    (167, 982.5, 253, 990, True), (253, 982.5, 989, 990, False), (989, 982.5, 1069, 990, True),
    (167, 990, 176, 1036, True), (167, 1036, 176, 1528, False), (167, 1528, 176, 1583, True),
    (1061, 990, 1069, 1045, True), (1061, 1045, 1069, 1537, False), (1061, 1537, 1069, 1591, True),
    (167, 1583, 249, 1591, True), (249, 1583, 989, 1591, False), (989, 1583, 1070, 1591, True),
    (1170, 1053, 1275, 1073, True), (1170, 1242, 1275, 1260, True),
    (1170, 1053, 1182, 1260, True), (1266, 1053, 1275, 1260, True),
]

# networks, in crop units
NET_SX, NET_SY = 0.979, 0.932
NET_ORIGIN_LEFT = (0, 2350)
NET_ORIGIN_RIGHT = (1535, 2350)

NET1_NAMES = ["APP*", "BOD1", "NAT6*", "LRRC8D", "TM2D1", "FMNL2", "VWA5A", "ALDH2", "FCHO1", "RBM4B", "KLC4",
              "C9orf78*", "ETFB*", "C21orf59", "C11orf52", "SKA3*", "CCZ1/CCZ1B*", "LMCD1", "C2orf49", "RASA3",
              "PATL1", "PTTG2", "LURAP1L", "ZCCHC6", "RSRC2", "LAD1", "DEF6", "ZNF706", "PROSER2", "TRUB1",
              "WIBG", "ARHGEF40", "MVB12A", "GOLGA4", "GSPT2"]
NET1_X = [783, 720, 497, 947, 307, 765, 601, 1059, 1243, 440, 222, 707, 868, 1292, 1029, 1198, 545, 320, 1415,
          1063, 1245, 558, 172, 374, 720, 879, 1406, 1072, 618, 289, 821, 1234, 517, 992, 740]
NET1_Y = [769, 155, 226, 185, 342, 340, 397, 404, 311, 537, 577, 569, 548, 514, 633, 685, 708, 770, 764, 880,
          904, 884, 964, 990, 977, 1005, 1005, 1130, 1147, 1207, 1200, 1211, 1321, 1337, 1382]
NET1_SHAPES = ["c", "c", "c", "s", "s", "c", "c", "d", "c", "c", "c", "c", "t", "c", "c", "c", "c", "e", "c", "s",
               "h", "c", "c", "d", "c", "c", "c", "c", "c", "d", "c", "c", "c", "c", "h"]
NET1_FILLS = ["R", "R", "R", "R", "R", "R", "R", "R", "R", "R", "R", "L", "R", "R", "R", "R", "R", "L", "R", "R",
              "R", "R", "R", "R", "L", "R", "L", "R", "R", "R", "R", "R", "R", "Y", "R"]
NET1_ENDS = [(723, 178), (765, 362), (512, 250), (613, 423), (600, 420), (932, 237), (717, 595), (858, 572),
             (1035, 435), (1035, 422), (1220, 333), (1268, 527), (1013, 652), (1005, 645), (1175, 694), (1372, 764),
             (1040, 860), (1040, 845), (1225, 896), (1384, 995), (1052, 1105), (1210, 1187), (868, 980), (860, 985),
             (818, 1178), (743, 1360), (725, 955), (628, 1122), (610, 1122), (528, 1298), (313, 1185), (397, 975),
             (580, 873), (195, 955), (370, 770), (245, 585), (567, 695), (465, 553), (330, 362)]
NET1_EXTRA = [((972, 232), (1035, 355)), ((892, 527), (1035, 422)), ((878, 1030), (983, 1312))]
NET1_LOOPS = [(1059, 342, 116, 122), (783, 732, 62, 62)]

NET2_NAMES = ["APP*", "CDCA3", "LAD1", "PTTG2", "RSRC2", "KLC4", "FAM64A*", "KIAA1143", "LRRC8C", "LRRC8D",
              "STARD10", "COASY", "ANKZF1", "DEF6", "KIAA1191", "PROSER2", "ALDH2", "VWA5A", "C9orf78*", "CAAP1",
              "EEPD1", "TM2D1", "HMCES", "FSIP1", "ODF2*", "DUS3L", "C2orf49", "LMCD1", "CRACR2B*", "C9orf142",
              "CFDP1", "ZGRF1", "TICRR", "ENTHD2*", "ZCCHC6"]
NET2_X = [921, 843, 1056, 1244, 615, 790, 991, 1201, 172, 413, 587, 743, 945, 1162, 1363, 717, 541, 366, 1124,
          1434, 1277, 746, 1080, 571, 406, 927, 1380, 1168, 755, 544, 956, 1244, 873, 1082, 680]
NET2_Y = [772, 179, 213, 258, 299, 341, 394, 420, 429, 519, 476, 503, 579, 582, 564, 666, 727, 762, 745, 762,
          823, 881, 907, 933, 966, 973, 998, 1093, 1105, 1127, 1134, 1279, 1312, 1317, 1329]
NET2_SHAPES = ["c", "c", "c", "c", "c", "c", "c", "c", "c", "s", "c", "v", "e", "c", "c", "c", "d", "c", "c", "c",
               "c", "s", "c", "c", "c", "c", "c", "e", "c", "c", "c", "c", "c", "c", "d"]
NET2_FILLS = ["R", "R", "R", "R", "L", "R", "L", "R", "R", "L", "R", "L", "L", "Y", "R", "R", "R", "L", "R", "R",
              "R", "L", "R", "L", "R", "R", "L", "L", "L", "R", "R", "R", "R", "R", "R"]
NET2_ENDS = [(847, 203), (1052, 237), (1230, 282), (757, 525), (765, 530), (797, 365), (987, 418), (1182, 444),
             (610, 497), (945, 603), (1140, 600), (1340, 575), (570, 732), (390, 763), (1100, 752), (1412, 762),
             (1255, 818), (768, 830), (1060, 885), (593, 922), (428, 957), (925, 950), (954, 1112), (1358, 985),
             (1150, 1070), (1230, 1255), (1075, 1295), (875, 1290), (702, 1277), (767, 1082), (567, 1105),
             (738, 680), (735, 678), (950, 580), (975, 420)]
NET2_EXTRA = [((195, 439), (391, 510)), ((435, 532), (695, 655)), ((630, 323), (735, 480)), ((435, 555), (520, 690))]
NET2_LOOPS = [(541, 667, 112, 118), (921, 740, 58, 62)]

NET_SIZES = {"c": (48, 48), "s": (46, 104), "d": (42, 104), "e": (98, 48), "t": (46, 50), "h": (48, 48), "v": (46, 46)}

# titles: text, x, y, size
TITLES = [("A", 89, 90, 163), ("B", 91, 2170, 147),
          ("Canonical Pathway: Molecular Mechanisms of Cancer", 1527, 220, 114.5),
          ("SU11274", 765, 384, 114), ("Stauro", 2293, 384, 114),
          ("IPA Generated Networks: Changes Only", 1526, 2168, 114.5),
          ("SU11274", 765, 2325, 114), ("Stauro", 2293, 2325, 114)]
FRAMES = [(46, 469, 1496, 1941), (1579, 469, 3029, 1941), (47, 2407, 1496, 3764), (1585, 2410, 3030, 3760)]
BLUE_TEXT = [("Path Designer Molecular Mechanisms of Cancer", 50, 480, 13.9),
             ("Path Designer Molecular Mechanisms of Cancer", 1584, 480, 13.9),
             ("© 2000-2015 QIAGEN. All rights reserved.", 50, 1931, 10.6),
             ("© 2000-2015 QIAGEN. All rights reserved.", 1584, 1931, 10.6),
             ("Path Designer Network 1", 52, 2426, 24),
             ("Path Designer Network 1", 1597, 2451, 24),
             ("© 2000-2015 QIAGEN. All rights reserved.", 52, 3747, 18.2),
             ("© 2000-2015 QIAGEN. All rights reserved.", 1598, 3717, 17.3)]

shapes, annos = [], []
line_x, line_y, dash_x, dash_y = [], [], [], []
net_x, net_y = [], []
arrows = {"x": [], "y": [], "a": []}
opens = {"x": [], "y": [], "a": []}
bars = {"x": [], "y": [], "a": []}
circ = {"x": [], "y": [], "s": [], "c": [], "lc": [], "lw": [], "gt": [], "gc": []}
rings = {"x": [], "y": [], "s": []}
xmarks = {"x": [], "y": []}


def poly_path(pts):
    return "M " + " L ".join(f"{a:.1f},{b:.1f}" for a, b in pts) + " Z"


def ellipse_path(cx, cy, w, h):
    # plotly paths take no arcs
    n = 40
    return poly_path([(cx + w / 2 * math.cos(2 * math.pi * i / n), cy + h / 2 * math.sin(2 * math.pi * i / n))
                      for i in range(n)])


def poly(kind, x, y, w, h):
    a, b = w / 2, h / 2
    if kind == "d":
        return [(x - a, y), (x, y - b), (x + a, y), (x, y + b)]
    if kind == "v":
        return [(x - a, y - b), (x + a, y - b), (x, y + b)]
    if kind == "^":
        return [(x - a, y + b), (x + a, y + b), (x, y - b)]
    if kind == "s":
        return [(x - a, y - b), (x + a, y - b), (x + a, y + b), (x - a, y + b)]
    if kind == "t":
        return [(x - a * .7, y - b), (x + a * .7, y - b), (x + a, y + b), (x - a, y + b)]
    if kind == "h":
        return [(x - a, y), (x - a * .5, y - b), (x + a * .5, y - b), (x + a, y), (x + a * .5, y + b), (x - a * .5, y + b)]
    # gear
    pts = []
    for i in range(48):
        r = 1.0 if (i % 6) < 3 else 0.8
        t = 2 * math.pi * i / 48
        pts.append((x + a * r * math.cos(t), y + b * r * math.sin(t)))
    return pts


def mix(c0, c1, t):
    v0 = [int(c0[i:i + 2], 16) for i in (1, 3, 5)]
    v1 = [int(c1[i:i + 2], 16) for i in (1, 3, 5)]
    return "#%02x%02x%02x" % tuple(int(p + (q - p) * t) for p, q in zip(v0, v1))


def add_shape_path(path, fill, line, width, layer="above"):
    shapes.append(dict(type="path", path=path, fillcolor=fill, xref="x", yref="y", layer=layer,
                       line=dict(color=line, width=width)))


def gradient_ellipse(x, y, w, h, grad, line, lw):
    n = 8
    rx, ry = w / 2, h / 2
    for i in range(n):
        t0, t1 = -1 + 2 * i / n, -1 + 2 * (i + 1) / n
        pts = []
        for k in range(5):
            u = t0 + (t1 - t0) * k / 4
            pts.append((x + rx * u, y - ry * math.sqrt(max(0, 1 - u * u))))
        for k in range(4, -1, -1):
            u = t0 + (t1 - t0) * k / 4
            pts.append((x + rx * u, y + ry * math.sqrt(max(0, 1 - u * u))))
        c = mix(grad[0], grad[1], (i + .5) / n)
        add_shape_path(poly_path(pts), c, c, 0.5)
    add_shape_path(ellipse_path(x, y, w, h), "rgba(0,0,0,0)", line, lw)


def add_label(text, x, y, size, color="#000000", step=None, anchor="center", bold=False):
    parts = text.split("|")
    step = step or size * 1.1
    for i, part in enumerate(parts):
        if not part:
            continue
        t = f"<b>{part}</b>" if bold else part
        annos.append(dict(text=t, x=x, y=y + (i - (len(parts) - 1) / 2) * step, xref="x", yref="y", showarrow=False,
                          xanchor=anchor, yanchor="middle", font=dict(family=FONT, size=size, color=color)))


def add_edge(style, pts):
    xs = dash_x if style in "dn" else line_x
    ys = dash_y if style in "dn" else line_y
    xs.extend([p[0] for p in pts] + [None])
    ys.extend([p[1] for p in pts] + [None])
    (x0, y0), (x1, y1) = pts[-2], pts[-1]
    ang = math.degrees(math.atan2(x1 - x0, -(y1 - y0)))
    norm = math.hypot(x1 - x0, y1 - y0) or 1
    ux, uy = (x1 - x0) / norm, (y1 - y0) / norm
    if style in ">d":
        arrows["x"].append(x1 - ux * 7); arrows["y"].append(y1 - uy * 7); arrows["a"].append(ang)
    elif style == "o":
        opens["x"].append(x1 - ux * 8); opens["y"].append(y1 - uy * 8); opens["a"].append(ang)
    elif style == "T":
        bars["x"].append(x1); bars["y"].append(y1); bars["a"].append(ang)


def add_node(label, x, y, kind, w, h, fill, border, size):
    line = BORDERS[border]
    lw = 2.4 if border in "MB" else 1
    if kind == "x":
        add_label(label, x, y, size, step=15.5)
        return
    if kind in "cC":
        grad = GRADS.get(fill)
        circ["x"].append(x); circ["y"].append(y); circ["s"].append(w)
        circ["c"].append(grad[0] if grad else COLORS[fill])
        circ["lc"].append(line); circ["lw"].append(lw)
        circ["gt"].append("horizontal" if grad else "none")
        circ["gc"].append(grad[1] if grad else "#ffffff")
        if kind == "C":
            rings["x"].append(x); rings["y"].append(y); rings["s"].append(w * .8)
    elif kind in "eE":
        grad = GRADS.get(fill)
        if grad:
            gradient_ellipse(x, y, w, h, grad, line, lw)
        else:
            add_shape_path(ellipse_path(x, y, w, h), COLORS[fill], line, lw)
        if kind == "E":
            add_shape_path(ellipse_path(x, y, w * .8, h * .78), "rgba(0,0,0,0)", "#707070", 1)
    else:
        col = "#d8d8d8" if kind == "g" else line
        add_shape_path(poly_path(poly(kind, x, y, w, h)), COLORS[fill], col, lw)
    add_label(label, x, y, size, step=15.5)


# pathways
for dx, fill_col in ((0, 6), (STAURO_DX, 7)):
    for x0, y0, x1, y1, dark in BANDS:
        shapes.append(dict(type="rect", x0=x0 + dx, x1=x1 + dx, y0=y0, y1=y1, xref="x", yref="y", layer="below",
                           fillcolor=EDGE if dark else "#ffffff",
                           line=dict(color=EDGE if dark else "#a8a8a8", width=1)))
    for tile, (ox, oy) in ORIGIN.items():
        for gx, gy, gw, gh, ring in GROUPS[tile]:
            px, py, pw, ph = ox + dx + gx * SX, oy + gy * SY, gw * SX, gh * SY
            outer = (MAG, 4) if ring == "M" else ("#8c8c8c", 1)
            add_shape_path(ellipse_path(px, py, pw, ph), "#ffffff", outer[0], outer[1], layer="below")
            if ring == "D":
                add_shape_path(ellipse_path(px, py, pw * .92, ph * .92), "#ffffff", "#8c8c8c", 1, layer="below")
            add_shape_path(ellipse_path(px, py, pw * .74, ph * .74), "rgba(0,0,0,0)", EDGE, 3, layer="below")
        for edge in EDGE_TILES[tile]:
            add_edge(edge[0], [(ox + dx + p[0] * SX, oy + p[1] * SY) for p in edge[1:]])
        for wx, wy in WAVES[tile]:
            xmarks["x"].append(ox + dx + wx * SX); xmarks["y"].append(oy + wy * SY)
        for node in NODE_TILES[tile]:
            label, x, y, kind, w, h = node[:6]
            border = node[8]
            # the blue rings are magenta in the Stauro panel
            if dx and border == "B":
                border = "M"
            add_node(label, ox + dx + x * SX, oy + y * SY, kind, w * SX, h * SY, node[fill_col], border, 14)
    for tile, tx, ty in TAGS:
        ox, oy = ORIGIN[tile]
        add_node("P", ox + dx + tx * SX, oy + ty * SY, "c", 12, 12, "W", "N", 9)


def add_node_net(name, x, y, kind, w, h, fill):
    if kind == "c":
        circ["x"].append(x); circ["y"].append(y); circ["s"].append(w)
        circ["c"].append(COLORS[fill]); circ["lc"].append("#8c8c8c"); circ["lw"].append(1)
        circ["gt"].append("none"); circ["gc"].append("#ffffff")
    elif kind == "e":
        add_shape_path(ellipse_path(x, y, w, h), COLORS[fill], "#6e6e6e", 1)
    else:
        add_shape_path(poly_path(poly(kind, x, y, w, h)), COLORS[fill], "#8c8c8c", 1)
    add_label(name, x, y, 24)


# networks
def network(origin, names, xs, ys, kinds, fills, ends, extra, loops):
    ox, oy = origin
    cx, cy = ox + xs[0] * NET_SX, oy + ys[0] * NET_SY
    for ex, ey in ends:
        net_x.extend([cx, ox + ex * NET_SX, None])
        net_y.extend([cy, oy + ey * NET_SY, None])
    for a, b in extra:
        net_x.extend([ox + a[0] * NET_SX, ox + b[0] * NET_SX, None])
        net_y.extend([oy + a[1] * NET_SY, oy + b[1] * NET_SY, None])
    for lx, ly, lw, lh in loops:
        add_shape_path(ellipse_path(ox + lx * NET_SX, oy + ly * NET_SY, lw * NET_SX, lh * NET_SY),
                       "rgba(0,0,0,0)", EDGE, 2.8, layer="below")
    opens["x"].append(cx - 32); opens["y"].append(cy - 28); opens["a"].append(150)
    for name, x, y, kind, fill in zip(names, xs, ys, kinds, fills):
        w, h = NET_SIZES[kind]
        add_node_net(name, ox + x * NET_SX, oy + y * NET_SY, kind, w * NET_SX, h * NET_SY, fill)


network(NET_ORIGIN_LEFT, NET1_NAMES, NET1_X, NET1_Y, NET1_SHAPES, NET1_FILLS, NET1_ENDS, NET1_EXTRA, NET1_LOOPS)
network(NET_ORIGIN_RIGHT, NET2_NAMES, NET2_X, NET2_Y, NET2_SHAPES, NET2_FILLS, NET2_ENDS, NET2_EXTRA, NET2_LOOPS)

# frames go first so that everything else lies on top of them
frames = [dict(type="rect", x0=x0, x1=x1, y0=y0, y1=y1, xref="x", yref="y", layer="below",
               fillcolor="#ffffff", line=dict(color="#000000", width=5)) for x0, y0, x1, y1 in FRAMES]
shapes = frames + shapes

for text, x, y, size in TITLES:
    add_label(text, x, y, size, bold=True)
for text, x, y, size in BLUE_TEXT:
    add_label(text, x, y, size, color="#0000ff", anchor="left")

fig = go.Figure()
fig.add_trace(go.Scatter(x=line_x, y=line_y, mode="lines", line=dict(color=EDGE, width=2), hoverinfo="skip"))
fig.add_trace(go.Scatter(x=net_x, y=net_y, mode="lines", line=dict(color=EDGE, width=2.8), hoverinfo="skip"))
fig.add_trace(go.Scatter(x=dash_x, y=dash_y, mode="lines", line=dict(color=EDGE, width=2, dash="8px,6px"), hoverinfo="skip"))
fig.add_trace(go.Scatter(x=xmarks["x"], y=xmarks["y"], mode="markers", hoverinfo="skip",
                         marker=dict(symbol="x-thin", size=9, line=dict(color="#ff9090", width=1.2))))
fig.add_trace(go.Scatter(x=arrows["x"], y=arrows["y"], mode="markers", hoverinfo="skip",
                         marker=dict(symbol="triangle-up", size=14, color=EDGE, angle=arrows["a"], line=dict(width=0))))
fig.add_trace(go.Scatter(x=opens["x"], y=opens["y"], mode="markers", hoverinfo="skip",
                         marker=dict(symbol="triangle-up", size=15, color="#ffffff", angle=opens["a"],
                                     line=dict(color=EDGE, width=1))))
fig.add_trace(go.Scatter(x=bars["x"], y=bars["y"], mode="markers", hoverinfo="skip",
                         marker=dict(symbol="line-ew", size=13, angle=bars["a"], line=dict(color=EDGE, width=1.5))))
fig.add_trace(go.Scatter(x=circ["x"], y=circ["y"], mode="markers", hoverinfo="skip",
                         marker=dict(symbol="circle", size=circ["s"], color=circ["c"], opacity=1,
                                     line=dict(color=circ["lc"], width=circ["lw"]),
                                     gradient=dict(type=circ["gt"], color=circ["gc"]))))
fig.add_trace(go.Scatter(x=rings["x"], y=rings["y"], mode="markers", hoverinfo="skip",
                         marker=dict(symbol="circle-open", size=rings["s"], color="#707070", opacity=1, line=dict(width=1))))

fig.update_xaxes(visible=False, range=[0, W])
fig.update_yaxes(visible=False, range=[H, 0])
fig.update_layout(width=W, height=H, margin=dict(l=0, r=0, t=0, b=0), paper_bgcolor="#ffffff",
                  plot_bgcolor="#ffffff", showlegend=False, shapes=shapes, annotations=annos)
fig.write_html("out.html", post_script="document.body.style.margin='0';", config={"displayModeBar": False})
